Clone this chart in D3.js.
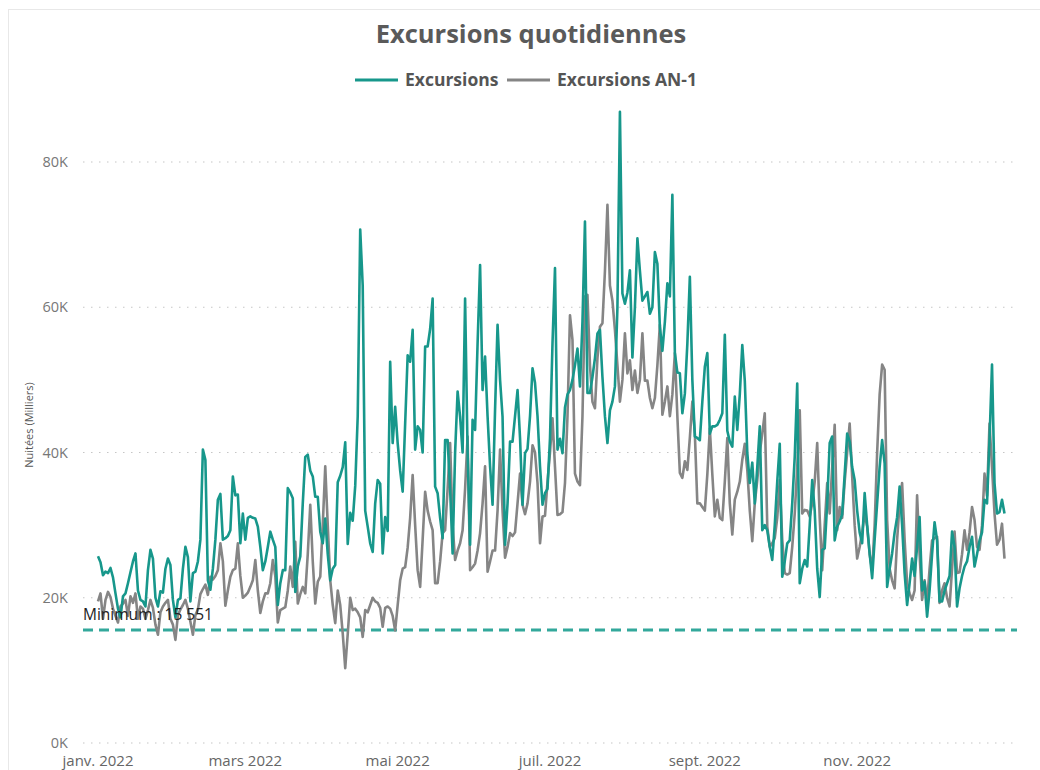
<!DOCTYPE html>
<html>
<head>
<meta charset="utf-8">
<script src="https://cdn.jsdelivr.net/npm/d3@7"></script>
<style>
  body { margin: 0; background: #fff; font-family: "Open Sans", "Noto Sans", sans-serif; }
</style>
</head>
<body>
<div id="chart"></div>
<script>
// daily values 2022, in thousands, starting 1 Jan
var excursions = [
  25.7, 24.9, 23.1, 23.6, 23.4, 24.1, 22.8, 20.6, 18.5, 17.3,
  20.2, 20.6, 22.0, 23.5, 25.0, 26.1, 21.0, 19.7, 19.5, 18.8,
  23.8, 26.6, 25.4, 20.0, 18.8, 20.9, 20.7, 24.0, 25.4, 24.5,
  19.7, 17.3, 19.7, 19.9, 24.0, 27.0, 25.6, 19.5, 23.4, 23.6,
  25.0, 28.0, 40.4, 39.0, 22.4, 21.1, 24.0, 28.0, 33.5, 34.3,
  28.0, 28.2, 28.5, 29.3, 36.7, 34.1, 34.2, 27.5, 31.6, 28.0,
  31.0, 31.2, 31.0, 30.9, 29.8, 27.0, 23.8, 25.0, 27.0, 29.1,
  28.0, 27.0, 19.0, 22.0, 23.8, 23.8, 35.1, 34.5, 33.7, 20.8,
  24.3, 25.7, 33.0, 39.4, 39.7, 37.5, 36.7, 33.9, 33.9, 29.1,
  27.5, 30.9, 26.0, 22.4, 24.0, 24.5, 35.9, 36.8, 38.0, 41.4,
  27.4, 31.7, 30.6, 35.4, 45.0, 70.7, 63.0, 32.0, 29.8, 27.5,
  26.3, 33.0, 36.2, 35.7, 26.1, 31.1, 29.2, 52.5, 41.3, 46.3,
  41.3, 37.5, 34.6, 44.0, 53.4, 52.5, 56.9, 40.4, 43.6, 43.1,
  40.0, 54.6, 54.6, 57.0, 61.2, 35.3, 34.4, 31.0, 28.2, 41.7,
  41.7, 35.0, 26.1, 40.0, 48.4, 44.9, 40.0, 61.2, 40.0, 27.3,
  44.5, 43.1, 55.0, 65.8, 48.6, 53.2, 45.0, 38.1, 32.8, 45.9,
  57.6, 50.0, 44.9, 27.3, 33.0, 41.5, 41.5, 45.0, 48.6, 42.0,
  32.8, 39.9, 40.5, 45.0, 51.6, 49.6, 45.0, 38.1, 32.8, 34.4,
  35.0, 42.0, 55.0, 65.4, 40.4, 41.9, 39.9, 46.2, 48.0, 48.6,
  50.0, 52.0, 54.3, 49.1, 58.0, 71.8, 48.2, 48.2, 50.4, 53.0,
  56.4, 56.9, 50.4, 45.0, 41.3, 45.8, 47.0, 49.1, 60.0, 86.9,
  61.9, 60.5, 62.0, 65.1, 53.1, 60.0, 69.5, 65.0, 60.9, 61.5,
  62.1, 59.1, 60.0, 67.6, 66.0, 57.3, 54.0, 58.0, 63.3, 61.5,
  75.5, 53.7, 51.0, 50.9, 45.4, 48.1, 55.0, 64.2, 50.0, 42.2,
  42.0, 41.7, 47.0, 51.8, 53.7, 42.6, 43.6, 43.6, 43.8, 44.5,
  45.4, 56.2, 43.0, 41.5, 40.8, 47.7, 43.1, 48.0, 54.8, 49.9,
  40.0, 35.8, 38.6, 33.0, 38.0, 43.6, 29.3, 30.0, 29.3, 27.0,
  25.2, 30.0, 36.0, 41.2, 22.9, 25.0, 27.5, 27.9, 33.0, 39.4,
  49.5, 22.0, 24.0, 25.2, 24.3, 30.0, 36.2, 32.0, 24.0, 20.1,
  26.6, 26.8, 33.0, 41.3, 42.2, 27.9, 29.8, 30.5, 31.5, 37.0,
  42.6, 41.5, 38.0, 36.2, 32.0, 29.0, 27.5, 34.4, 30.0, 26.1,
  22.7, 28.0, 33.0, 38.0, 41.7, 38.5, 21.5, 24.0, 26.1, 29.0,
  31.1, 35.3, 30.0, 23.4, 19.0, 22.0, 25.4, 23.0, 27.0, 31.1,
  21.0, 22.2, 17.4, 21.0, 26.0, 30.4, 27.9, 19.5, 19.5, 21.0,
  22.0, 23.0, 29.1, 27.0, 18.8, 21.3, 23.0, 24.3, 25.0, 27.0,
  28.4, 24.3, 26.0, 27.9, 29.0, 33.5, 33.0, 41.7, 52.1, 35.8,
  31.6, 31.8, 33.5, 31.6
];
var excursionsAN1 = [
  19.5, 20.6, 17.1, 19.7, 20.8, 20.1, 18.5, 17.5, 16.6, 18.8,
  19.2, 19.7, 17.5, 20.2, 19.3, 20.6, 17.1, 18.8, 18.5, 17.1,
  18.3, 19.7, 18.6, 16.3, 14.9, 18.0, 18.8, 19.3, 19.7, 17.1,
  16.3, 14.2, 17.6, 18.4, 19.0, 19.7, 18.5, 16.7, 14.9, 17.6,
  18.4, 20.5, 21.2, 21.8, 20.4, 22.9, 22.5, 23.0, 23.8, 27.5,
  25.0, 18.9, 21.0, 22.9, 23.8, 24.0, 27.5, 23.0, 20.0, 20.3,
  20.7, 21.5, 22.4, 25.2, 21.0, 17.9, 19.5, 20.6, 20.6, 22.0,
  25.2, 23.0, 16.6, 18.3, 18.5, 18.7, 21.0, 24.3, 21.5, 27.7,
  19.2, 20.5, 21.5, 20.6, 26.0, 32.8, 25.0, 19.2, 22.2, 22.9,
  30.0, 38.1, 30.0, 22.4, 19.0, 16.5, 21.0, 19.0, 15.1, 10.3,
  15.0, 20.0, 18.3, 18.5, 18.0, 17.3, 14.6, 18.3, 18.0, 19.0,
  20.0, 19.5, 19.3, 18.6, 16.0, 18.6, 18.8, 18.5, 17.5, 15.5,
  19.0, 22.4, 24.0, 24.2, 26.9, 31.0, 36.9, 30.0, 23.8, 21.5,
  28.0, 34.6, 32.0, 30.5, 29.3, 22.0, 22.0, 25.0, 28.9, 29.3,
  35.0, 41.3, 30.0, 25.2, 26.5, 27.5, 29.3, 35.0, 42.2, 23.8,
  24.2, 24.7, 26.5, 28.9, 33.0, 38.1, 23.6, 25.0, 26.5, 26.5,
  32.0, 40.4, 32.0, 25.5, 27.0, 28.9, 28.5, 29.0, 33.0, 37.1,
  32.8, 31.5, 33.0, 36.0, 41.0, 40.0, 35.8, 27.5, 31.2, 31.3,
  36.0, 40.0, 44.7, 38.0, 31.4, 31.5, 31.8, 35.8, 45.0, 58.9,
  55.5, 37.1, 36.0, 35.5, 45.0, 61.5, 61.7, 52.0, 47.0, 46.1,
  53.0, 57.3, 57.8, 65.0, 74.1, 63.0, 60.9, 56.9, 52.0, 47.0,
  50.0, 56.4, 50.9, 52.7, 48.6, 51.3, 48.2, 50.0, 56.4, 49.9,
  49.9, 47.5, 46.1, 47.5, 52.0, 57.6, 45.2, 47.0, 49.1, 45.0,
  48.0, 53.7, 45.0, 37.2, 36.5, 38.8, 37.6, 42.0, 47.0, 42.6,
  33.0, 33.0, 32.5, 32.0, 37.0, 43.3, 37.0, 31.2, 33.5, 31.0,
  30.7, 36.0, 42.0, 33.0, 28.7, 33.5, 34.6, 36.0, 39.0, 41.2,
  37.6, 32.0, 27.8, 33.0, 36.2, 40.0, 42.6, 45.4, 29.8, 27.0,
  27.5, 28.2, 31.0, 36.2, 28.0, 23.4, 23.2, 23.4, 27.0, 31.6,
  38.0, 45.8, 31.6, 32.1, 32.0, 31.2, 33.0, 36.0, 41.3, 31.0,
  23.8, 30.0, 35.8, 31.6, 38.0, 43.8, 29.3, 32.5, 31.0, 36.0,
  40.0, 44.0, 36.7, 30.0, 25.4, 27.0, 29.0, 31.6, 29.8, 26.0,
  23.8, 30.0, 40.0, 48.0, 52.1, 51.4, 30.7, 24.0, 22.4, 21.3,
  28.0, 33.0, 35.8, 28.0, 22.0, 20.6, 19.7, 21.0, 34.1, 26.0,
  19.7, 22.4, 19.3, 24.0, 27.9, 28.2, 28.4, 19.3, 21.0, 22.0,
  20.0, 18.8, 24.0, 29.1, 23.4, 23.5, 26.0, 29.3, 26.6, 29.0,
  32.5, 30.7, 27.0, 26.6, 30.0, 37.1, 34.0, 44.0, 38.0, 31.6,
  27.3, 28.0, 30.2, 25.4
];
var monthTicks = ["2022-01-01", "2022-03-01", "2022-05-01", "2022-07-01", "2022-09-01", "2022-11-01"];
var monthLabels = ["janv. 2022", "mars 2022", "mai 2022", "juil. 2022", "sept. 2022", "nov. 2022"];
var yTicks = [0, 20, 40, 60, 80];
var minimum = 15.551;

var width = 1040, height = 770;
var teal = "#17978b", grey = "#858585";

var svg = d3.select("#chart").append("svg").attr("width", width).attr("height", height);

// card border
svg.append("rect").attr("x", 8.5).attr("y", 9.5).attr("width", 1050).attr("height", 780)
  .attr("fill", "#fff").attr("stroke", "#e8e8e8");

var start = new Date(2022, 0, 1);
var parse = d3.timeParse("%Y-%m-%d");
var x = d3.scaleTime().domain([start, new Date(2022, 11, 31)]).range([98, 1007]);
var y = d3.scaleLinear().domain([0, 80]).range([743, 162]);

// gridlines
svg.append("g").selectAll("line").data(yTicks).enter().append("line")
  .attr("x1", 83).attr("x2", 1017)
  .attr("y1", d => y(d)).attr("y2", d => y(d))
  .attr("stroke", "#c6c6c6").attr("stroke-width", 1.2).attr("stroke-dasharray", "1.5,6.5");

// y labels
svg.append("g").selectAll("text").data(yTicks).enter().append("text")
  .attr("x", 68).attr("y", d => y(d)).attr("dy", "0.35em")
  .attr("text-anchor", "end").attr("fill", "#777").style("font-size", "14.5px")
  .text(d => d + "K");

svg.append("text")
  .attr("transform", "translate(33,425) rotate(-90)")
  .attr("text-anchor", "middle").attr("fill", "#555").style("font-size", "11px")
  .text("Nuitées (Milliers)");

// x labels
svg.append("g").selectAll("text").data(monthTicks).enter().append("text")
  .attr("x", d => x(parse(d))).attr("y", 766)
  .attr("text-anchor", "middle").attr("fill", "#666").style("font-size", "15px")
  .text((d, i) => monthLabels[i]);

// minimum line
svg.append("line")
  .attr("x1", 83).attr("x2", 1017).attr("y1", y(minimum)).attr("y2", y(minimum))
  .attr("stroke", "#33a89b").attr("stroke-width", 3).attr("stroke-dasharray", "10,6");

var line = d3.line()
  .x((d, i) => x(d3.timeDay.offset(start, i)))
  .y(d => y(d));

svg.append("path").datum(excursionsAN1)
  .attr("d", line).attr("fill", "none").attr("stroke", grey).attr("stroke-width", 2.6)
  .attr("stroke-linejoin", "round");

svg.append("path").datum(excursions)
  .attr("d", line).attr("fill", "none").attr("stroke", teal).attr("stroke-width", 2.6)
  .attr("stroke-linejoin", "round");

svg.append("text").attr("x", 83).attr("y", 620).attr("fill", "#222")
  .style("font-size", "15.5px").text("Minimum : 15 551");

// title
svg.append("text").attr("x", 531).attr("y", 43).attr("text-anchor", "middle")
  .attr("fill", "#5a5a5a").style("font-size", "25.5px").style("font-weight", "700")
  .text("Excursions quotidiennes");

// legend
var legend = [
  { name: "Excursions", color: teal, x: 355 },
  { name: "Excursions AN-1", color: grey, x: 507 }
];
var lg = svg.append("g").selectAll("g").data(legend).enter().append("g");
lg.append("line").attr("x1", d => d.x).attr("x2", d => d.x + 43)
  .attr("y1", 80).attr("y2", 80).attr("stroke", d => d.color).attr("stroke-width", 3);
lg.append("text").attr("x", d => d.x + 50).attr("y", 80).attr("dy", "0.35em")
  .attr("fill", "#555").style("font-size", "17.5px").style("font-weight", "700")
  .text(d => d.name);
</script>
</body>
</html>
